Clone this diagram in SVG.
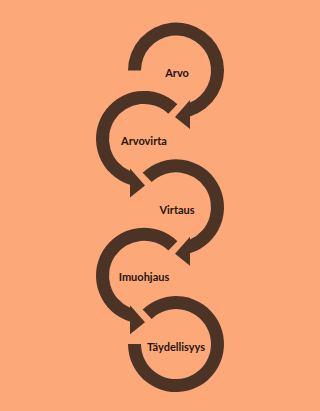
<svg xmlns="http://www.w3.org/2000/svg" width="320" height="411" viewBox="0 0 320 411">
<style>
.ring{fill:#4B3426;stroke:none}
.lbl{font-family:Lato,"Liberation Sans",sans-serif;font-size:11px;font-weight:bold;fill:#1E1712;text-anchor:middle;dominant-baseline:central}
</style>
<rect x="0" y="0" width="320" height="411" fill="#FCA878"/>
<g id="connectors"></g>
<g id="node-arvo">
<path class="ring" d="M 128 70.5 A 48 48 0 1 1 190 116.41 L 190 129 L 175 117 L 190 100 L 190 102.58 A 35 35 0 1 0 141 70.5 Z"/>
<text class="lbl" x="177" y="72">Arvo</text>
</g>
<g id="node-arvovirta">
<path class="ring" d="M 177.34 104.37 A 48 48 0 1 0 130 184.81 L 130 197.4 L 145 185.4 L 130 168.4 L 130 170.98 A 35 35 0 1 1 168.31 113.72 Z"/>
<text class="lbl" x="144" y="140.5">Arvovirta</text>
</g>
<g id="node-virtaus">
<path class="ring" d="M 142.66 172.77 A 48 48 0 1 1 190 253.21 L 190 265.8 L 175 253.8 L 190 236.8 L 190 239.38 A 35 35 0 1 0 151.69 182.12 Z"/>
<text class="lbl" x="177" y="209.5">Virtaus</text>
</g>
<g id="node-imuohjaus">
<path class="ring" d="M 177.34 241.17 A 48 48 0 1 0 130 321.61 L 130 334.2 L 145 322.2 L 130 305.2 L 130 307.78 A 35 35 0 1 1 168.31 250.52 Z"/>
<text class="lbl" x="144" y="276.5">Imuohjaus</text>
</g>
<g id="node-taydellisyys">
<path class="ring" d="M 142.66 309.57 A 48 48 0 1 1 128 344.1 L 141 344.1 A 35 35 0 1 0 151.69 318.92 Z"/>
<text class="lbl" x="176" y="346.5">Täydellisyys</text>
</g>
</svg>
